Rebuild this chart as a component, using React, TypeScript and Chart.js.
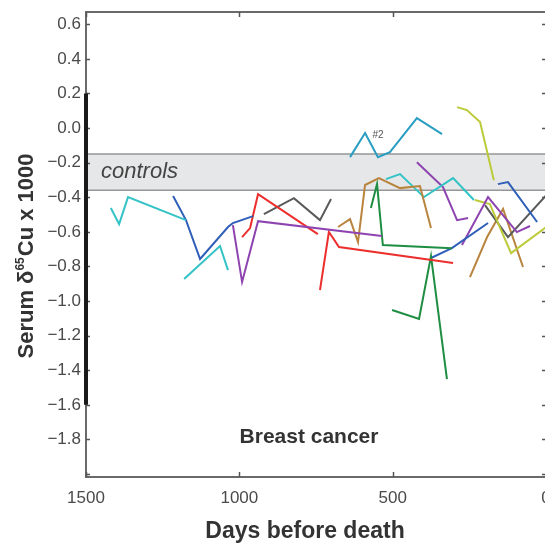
import React, { useEffect, useRef } from "react";
import { Chart, registerables } from "chart.js";
Chart.register(...registerables);

// ---- axes ----
const X_TICKS = [1500, 1000, 500, 0];
const Y_TICKS = [0.6, 0.4, 0.2, 0.0, -0.2, -0.4, -0.6, -0.8, -1.0, -1.2, -1.4, -1.6, -1.8, -2.0];
const X_MIN = 0;
const X_MAX = 1500;
const Y_MIN = -2.017;
const Y_MAX = 0.671;
const CONTROLS_LOW = -0.36;
const CONTROLS_HIGH = -0.15;
const SCALE_BAR_X = [1500, 1500];
const SCALE_BAR_Y = [0.2, -1.6];
const LABEL_2_POS = [548, -0.04];

// ---- series (days before death, serum d65Cu) ----
const cyanA_days = [1419, 1392, 1363, 1174];
const cyanA_vals = [-0.462, -0.555, -0.399, -0.532];
const cyanB_days = [1180, 1063, 1037];
const cyanB_vals = [-0.873, -0.682, -0.821];
const blueA_days = [1216, 1174, 1128, 1037, 1021, 955];
const blueA_vals = [-0.393, -0.532, -0.757, -0.572, -0.549, -0.509];
const purpleA_days = [1021, 991, 939, 535];
const purpleA_vals = [-0.561, -0.89, -0.538, -0.624];
const redA_days = [991, 965, 939, 744];
const redA_vals = [-0.63, -0.578, -0.382, -0.613];
const greyA_days = [920, 822, 737, 701];
const greyA_vals = [-0.497, -0.405, -0.532, -0.41];
const redB_days = [737, 708, 675, 303];
const redB_vals = [-0.936, -0.601, -0.688, -0.78];
const brownA_days = [678, 639, 613, 590, 545, 476, 411, 375];
const brownA_vals = [-0.572, -0.526, -0.659, -0.329, -0.289, -0.347, -0.335, -0.578];
const greenA_days = [571, 551, 532, 307];
const greenA_vals = [-0.462, -0.324, -0.676, -0.694];
const greenB_days = [502, 414, 375, 323];
const greenB_vals = [-1.052, -1.104, -0.74, -1.451];
const blueB_days = [375, 307, 189];
const blueB_vals = [-0.751, -0.694, -0.549];
const cyanC_days = [522, 476, 398, 303, 235];
const cyanC_vals = [-0.295, -0.266, -0.399, -0.289, -0.416];
const teal2_days = [639, 590, 548, 509, 421, 339];
const teal2_vals = [-0.168, -0.029, -0.168, -0.139, 0.058, -0.035];
const purpleB_days = [421, 336, 290, 254];
const purpleB_vals = [-0.197, -0.341, -0.532, -0.52];
const purpleC_days = [274, 189, 95, 52];
const purpleC_vals = [-0.676, -0.399, -0.601, -0.566];
const olivA_days = [290, 258, 215, 170];
const olivA_vals = [0.121, 0.104, 0.035, -0.301];
const olivB_days = [232, 183, 114, -10];
const olivB_vals = [-0.416, -0.439, -0.723, -0.56];
const blueC_days = [157, 124, 29];
const blueC_vals = [-0.324, -0.312, -0.543];
const greyB_days = [199, 124, -10];
const greyB_vals = [-0.445, -0.63, -0.37];
const brownB_days = [248, 192, 140, 75];
const brownB_vals = [-0.861, -0.63, -0.468, -0.803];

const CYAN = "#33c3c6";
const TEAL = "#2a9ec2";
const BLUE = "#2f5fb8";
const PURPLE = "#8e44b0";
const RED = "#ec2f2c";
const GREY = "#5a5a5a";
const BROWN = "#b9843e";
const GREEN = "#1f8e42";
const OLIVE = "#bccb3a";

const SERIES: [number[], number[], string][] = [
  [cyanA_days, cyanA_vals, CYAN],
  [cyanB_days, cyanB_vals, CYAN],
  [blueA_days, blueA_vals, BLUE],
  [purpleA_days, purpleA_vals, PURPLE],
  [redA_days, redA_vals, RED],
  [greyA_days, greyA_vals, GREY],
  [redB_days, redB_vals, RED],
  [brownA_days, brownA_vals, BROWN],
  [greenA_days, greenA_vals, GREEN],
  [greenB_days, greenB_vals, GREEN],
  [blueB_days, blueB_vals, BLUE],
  [cyanC_days, cyanC_vals, CYAN],
  [teal2_days, teal2_vals, TEAL],
  [purpleB_days, purpleB_vals, PURPLE],
  [purpleC_days, purpleC_vals, PURPLE],
  [olivA_days, olivA_vals, OLIVE],
  [olivB_days, olivB_vals, OLIVE],
  [blueC_days, blueC_vals, BLUE],
  [greyB_days, greyB_vals, GREY],
  [brownB_days, brownB_vals, BROWN],
];

const FONT = "'Liberation Sans', Arial, Helvetica, sans-serif";
const AXIS_COLOR = "#6a6a6a";
const TEXT_COLOR = "#4a4a4a";

function fmtY(v: number) {
  if (Math.abs(v + 2) < 1e-6) return "";
  const s = Math.abs(v).toFixed(1);
  return v < -1e-9 ? "\u2212" + s : s;
}

const decorPlugin = {
  id: "decor",
  beforeDatasetsDraw(chart: any) {
    const { ctx, chartArea } = chart;
    const x = chart.scales.x;
    const y = chart.scales.y;
    const { left, right, top: cTop, bottom } = chartArea;
    const top = y.getPixelForValue(CONTROLS_HIGH);
    const bot = y.getPixelForValue(CONTROLS_LOW);
    ctx.save();
    ctx.fillStyle = "#e6e7e8";
    ctx.fillRect(left, top, right - left, bot - top);
    ctx.strokeStyle = "#979797";
    ctx.lineWidth = 1.5;
    ctx.beginPath();
    ctx.moveTo(left, top);
    ctx.lineTo(right, top);
    ctx.moveTo(left, bot);
    ctx.lineTo(right, bot);
    ctx.stroke();
    ctx.fillStyle = "#444";
    ctx.font = `italic 22px ${FONT}`;
    ctx.textBaseline = "alphabetic";
    ctx.textAlign = "left";
    ctx.fillText("controls", left + 15, bot - 12);

    // box
    ctx.strokeStyle = AXIS_COLOR;
    ctx.lineWidth = 2;
    ctx.strokeRect(left, cTop, right - left, bottom - cTop);
    // inward ticks
    ctx.lineWidth = 1.5;
    ctx.strokeStyle = "#555";
    ctx.beginPath();
    for (const v of Y_TICKS) {
      const py = Math.round(y.getPixelForValue(v)) + 0.5;
      ctx.moveTo(left, py);
      ctx.lineTo(left + 4, py);
      ctx.moveTo(right, py);
      ctx.lineTo(right - 4, py);
    }
    for (const v of X_TICKS) {
      const px = Math.round(x.getPixelForValue(v)) + 0.5;
      ctx.moveTo(px, bottom);
      ctx.lineTo(px, bottom - 5);
      ctx.moveTo(px, cTop);
      ctx.lineTo(px, cTop + 5);
    }
    ctx.stroke();
    ctx.restore();
  },
  afterDraw(chart: any) {
    const { ctx } = chart;
    const x = chart.scales.x;
    const y = chart.scales.y;
    ctx.save();
    // #2 label
    ctx.fillStyle = "#555";
    ctx.font = `10px ${FONT}`;
    ctx.textAlign = "center";
    ctx.textBaseline = "middle";
    ctx.fillText("#2", x.getPixelForValue(LABEL_2_POS[0]), y.getPixelForValue(LABEL_2_POS[1]));

    // Breast cancer
    ctx.fillStyle = "#333";
    ctx.font = `bold 21px ${FONT}`;
    ctx.textBaseline = "alphabetic";
    ctx.fillText("Breast cancer", 309, 443);

    // x title
    ctx.font = `bold 23px ${FONT}`;
    ctx.fillText("Days before death", 305, 538);

    // y title with superscript
    ctx.translate(33, 256);
    ctx.rotate(-Math.PI / 2);
    const p1 = "Serum \u03b4";
    const p2 = "65";
    const p3 = "Cu x 1000";
    ctx.font = `bold 22px ${FONT}`;
    const w1 = ctx.measureText(p1).width;
    const w3 = ctx.measureText(p3).width;
    ctx.font = `bold 12px ${FONT}`;
    const w2 = ctx.measureText(p2).width;
    const total = w1 + w2 + w3 + 1;
    let cx = -total / 2;
    ctx.textAlign = "left";
    ctx.font = `bold 22px ${FONT}`;
    ctx.fillText(p1, cx, 0);
    cx += w1;
    ctx.font = `bold 12px ${FONT}`;
    ctx.fillText(p2, cx, -9);
    cx += w2 + 1;
    ctx.font = `bold 22px ${FONT}`;
    ctx.fillText(p3, cx, 0);
    ctx.restore();
  },
};

export default function App() {
  const ref = useRef<HTMLCanvasElement | null>(null);
  useEffect(() => {
    if (!ref.current) return;
    const datasets: any[] = SERIES.map(([d, v, c]) => ({
      data: d.map((dd, i) => ({ x: dd, y: v[i] })),
      borderColor: c,
      borderWidth: 2,
      pointRadius: 0,
      tension: 0,
      fill: false,
    }));
    datasets.push({
      data: SCALE_BAR_X.map((xx, i) => ({ x: xx, y: SCALE_BAR_Y[i] })),
      borderColor: "#1a1a1a",
      borderWidth: 4,
      pointRadius: 0,
      clip: false,
      fill: false,
      borderCapStyle: "butt",
    });
    const chart = new Chart(ref.current, {
      type: "line",
      data: { datasets },
      plugins: [decorPlugin],
      options: {
        animation: false,
        responsive: false,
        devicePixelRatio: 1,
        layout: { padding: { top: 12, right: 14, left: 0, bottom: 0 } },
        plugins: { legend: { display: false }, tooltip: { enabled: false } },
        scales: {
          x: {
            type: "linear",
            reverse: true,
            min: X_MIN,
            max: X_MAX,
            grid: { display: false, drawTicks: false },
            border: { display: false },
            afterBuildTicks: (s: any) => {
              s.ticks = X_TICKS.map((v) => ({ value: v }));
            },
            afterFit: (s: any) => {
              s.height = 66;
              s.paddingLeft = 0;
              s.paddingRight = 0;
            },
            ticks: {
              padding: 11,
              maxRotation: 0,
              autoSkip: false,
              color: TEXT_COLOR,
              font: { family: FONT, size: 17 },
              callback: (v: any) => String(v),
            },
          },
          y: {
            type: "linear",
            min: Y_MIN,
            max: Y_MAX,
            grid: { display: false, drawTicks: false },
            border: { display: false },
            afterBuildTicks: (s: any) => {
              s.ticks = Y_TICKS.map((v) => ({ value: v }));
            },
            afterFit: (s: any) => {
              s.width = 86;
              s.paddingTop = 0;
              s.paddingBottom = 0;
            },
            ticks: {
              padding: 5,
              autoSkip: false,
              color: TEXT_COLOR,
              font: { family: FONT, size: 17 },
              callback: (v: any) => fmtY(Number(v)),
            },
          },
        },
      } as any,
    });
    return () => chart.destroy();
  }, []);
  return (
    <div style={{ position: "fixed", left: 0, top: 0, width: 545, height: 543, overflow: "hidden", background: "#fff" }}>
      <canvas ref={ref} width={560} height={543} style={{ display: "block" }} />
    </div>
  );
}
